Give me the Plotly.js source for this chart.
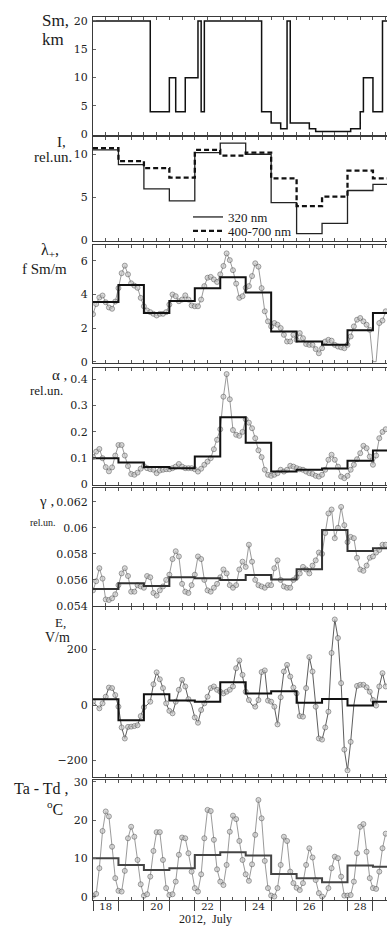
<!DOCTYPE html>
<html>
<head>
<meta charset="utf-8">
<script src="https://cdn.plot.ly/plotly-3.0.1.min.js"></script>
<style>
html, body { margin: 0; padding: 0; overflow: hidden; background: #fff; }
#chart { width: 420px; height: 927px; }
</style>
</head>
<body>
<div id="chart"></div>
<script>
// ---------------- DATA ----------------
// x unit: days since 2012-07-18 00:00
const dayLabels = ["18", "20", "22", "24", "26", "28"];
const dayLabelPos = [0.5, 2.5, 4.5, 6.5, 8.5, 10.5];
const dayBoundaries = [0,1,2,3,4,5,6,7,8,9,10,11,12];

// Meteorological visibility Sm, km (change times in days, value from that time)
const smTimes  = [0, 2.25, 3.0, 3.25, 3.625, 4.125, 4.25, 4.375, 6.625, 7.0, 7.375, 7.625, 7.75, 8.5, 8.75, 10.125, 10.5, 10.625, 11.0, 11.375, 12.1];
const smValues = [20, 4, 10, 4, 10, 20, 4, 20, 4, 2, 1, 20, 2, 1, 0.5, 1, 4, 10, 4, 20, 20];

// Daily solar radiation, rel.un.
const i320 = [10.5, 8.8, 6.0, 4.6, 10.2, 11.3, 10.0, 4.4, 0.8, 2.0, 5.8, 6.5];
const i400 = [10.7, 9.2, 8.4, 7.3, 10.5, 9.85, 10.2, 7.2, 4.0, 5.1, 8.1, 7.2];

// 3-hourly values (every 0.125 day) and daily means
const lam = [2.83, 3.43, 3.82, 3.94, 3.54, 3.23, 3.15, 3.58,
  4.38, 5.27, 5.72, 5.2, 4.67, 4.53, 4.4, 3.8,
  3.3, 3.05, 2.95, 2.85, 2.75, 2.85, 2.85, 2.95,
  3.4, 4.0, 3.9, 3.6, 3.7, 3.95, 3.7, 3.35,
  3.3, 3.3, 3.7, 4.5, 5.0, 5.05, 4.9, 4.75,
  5.2, 5.7, 6.45, 6.05, 5.45, 4.65, 3.8, 3.9,
  4.4, 4.5, 5.1, 5.86, 5.66, 4.38, 3.0, 2.4,
  2.1, 2.3, 2.2, 2.0, 1.6, 1.2, 1.2, 1.6,
  1.3, 1.7, 1.4, 1.05, 1.0, 1.0, 0.75, 0.5,
  0.8, 1.2, 1.3, 1.25, 1.0, 0.9, 0.85, 0.8,
  1.0, 1.5, 2.1, 2.5, 2.6, 2.4, 2.2, 1.9,
  0, 0, 2.3, 2.45, 3.0];
const lamMean = [3.55, 4.57, 2.9, 3.62, 4.38, 5.03, 4.12, 1.8, 1.2, 1.0, 1.87, 2.9];

const alpha = [0.105, 0.125, 0.135, 0.1, 0.066, 0.05, 0.065, 0.11,
  0.15, 0.15, 0.11, 0.07, 0.04, 0.037, 0.045, 0.06,
  0.07, 0.062, 0.058, 0.056, 0.043, 0.053, 0.056, 0.058,
  0.058, 0.062, 0.068, 0.078, 0.068, 0.062, 0.062, 0.062,
  0.058, 0.049, 0.06, 0.075, 0.087, 0.1, 0.134, 0.17,
  0.21, 0.334, 0.42, 0.324, 0.207, 0.189, 0.185, 0.2,
  0.248, 0.235, 0.214, 0.176, 0.13, 0.104, 0.056, 0.037,
  0.033, 0.037, 0.043, 0.056, 0.049, 0.056, 0.071, 0.068,
  0.062, 0.058, 0.056, 0.049, 0.043, 0.04, 0.033, 0.03,
  0.037, 0.056, 0.094, 0.113, 0.094, 0.068, 0.03, 0.024,
  0.033, 0.056, 0.075, 0.096, 0.119, 0.147, 0.138, 0.106,
  0.075, 0.11, 0.176, 0.2, 0.21];
const alphaMean = [0.1, 0.084, 0.066, 0.062, 0.106, 0.256, 0.159, 0.049, 0.056, 0.061, 0.09, 0.129];

const gamma = [0.0552, 0.0559, 0.0569, 0.0561, 0.0545, 0.05446, 0.05459, 0.0549,
  0.0556, 0.0565, 0.0569, 0.0563, 0.0551, 0.0551, 0.0556, 0.0555,
  0.0554, 0.0563, 0.0562, 0.055, 0.0548, 0.0552, 0.0555, 0.056,
  0.0564, 0.0576, 0.0582, 0.0578, 0.0557, 0.0551, 0.055, 0.0556,
  0.0564, 0.0578, 0.0576, 0.056, 0.0552, 0.0551, 0.0554, 0.0557,
  0.0562, 0.0568, 0.0565, 0.0556, 0.0554, 0.0556, 0.0568, 0.0574,
  0.057, 0.0587, 0.0574, 0.056, 0.0556, 0.0555, 0.0554, 0.0556,
  0.0556, 0.0569, 0.0575, 0.056, 0.0555, 0.0554, 0.0554, 0.056,
  0.0562, 0.0565, 0.057, 0.0568, 0.0565, 0.0571, 0.0575, 0.0581,
  0.058, 0.0596, 0.0611, 0.0614, 0.0592, 0.06, 0.0616, 0.0602,
  0.0589, 0.0593, 0.0592, 0.0577, 0.0568, 0.0567, 0.0571, 0.0577,
  0.0578, 0.0581, 0.0583, 0.0587, 0.0587];
const gammaMean = [0.0553, 0.05574, 0.05553, 0.0562, 0.05612, 0.056, 0.05638, 0.05604, 0.05681, 0.05982, 0.05821, 0.05842];
const gammaTicks = [0.054, 0.056, 0.058, 0.060, 0.062];
const gammaTickText = ["0.054", "0.056", "0.058", "0.06", "0.062"];

const efield = [12, 0, -12, 6, 30, 63, 61, 36,
  -6, -81, -121, -79, -78, -76, -73, -40,
  -8, 0, 12, 75, 118, 93, 61, 6,
  -21, -30, 12, 55, 91, 67, 21, 0,
  -45, -64, -18, 6, 30, 61, 67, 55,
  48, 42, 48, 55, 67, 133, 161, 109,
  48, 18, 0, -6, 18, 119, 125, 16,
  12, -6, -70, 28, 121, 145, 103, 63,
  42, -40, -42, 61, 173, 121, -6, -121,
  -125, -81, -24, 188, 309, 242, 79, -161,
  -236, -133, 0, 69, 73, 73, 64, 48,
  18, -2, 67, 115, 67];
const efieldMean = [21, -55, 39, 16, 12, 82, 42, 50, 8, 22, -2, 12];

const dewDef = [0.3, 0.8, 7.5, 17.2, 22.3, 21, 13.1, 4.9,
  1.6, 1.4, 6.8, 15.3, 18.3, 15.7, 9.65, 3.3,
  0.3, 0.7, 5.3, 12, 16.9, 16.9, 9.65, 2.3,
  0.5, 0.7, 4, 11, 15.5, 15.3, 11.4, 6.6,
  2.3, 1.4, 5.9, 15.3, 22.7, 22.4, 14.9, 7.2,
  4, 3.1, 8.35, 17, 21.2, 20.3, 14.6, 9.65,
  5.9, 4.2, 8.5, 16.2, 25.3, 20.5, 9.4, 2.3,
  0.35, 0.1, 2.3, 8.35, 15.7, 14.6, 6.6, 3.6,
  2.4, 1.8, 3.6, 8.35, 12.7, 10.3, 4.4, 1.0,
  0.1, 0, 2.3, 7.5, 10.5, 10.1, 5.3, 0.35,
  0.35, 0.5, 4, 11.4, 18.3, 19, 11.8, 4.9,
  2.3, 2.1, 6.6, 12.7, 16.5];
const dewDefMean = [10.1, 8.35, 7.04, 7.48, 10.96, 11.65, 10.78, 6.0, 4.87, 3.83, 8.17, 7.9];

// ---------------- LAYOUT HELPERS ----------------
const H = 927, W = 420, L = 93, R = 20;
const PW = W - L - R;
const pxToX = p => (p - L) / PW;
const pxToY = p => (H - p) / H;
const dom = (top, bot) => [pxToY(bot), pxToY(top)];
const XRANGE = [0, PW / 25.45];
const STEP = 0.125;

const tX = arr => arr.map((_, k) => k * STEP);
const sX = arr => arr.map((_, i) => i).concat([arr.length]);
const sY = arr => arr.concat([arr[arr.length - 1]]);

const SERIF_TICK = "'DejaVu Serif', 'Liberation Serif', serif";
const SERIF_LAB = "'Liberation Serif', 'Times New Roman', serif";
const tickFont = { family: SERIF_TICK, size: 11, color: "#222" };
const labFont = (s) => ({ family: SERIF_LAB, size: s, color: "#1a1a1a" });

const ptMarker = (arr) => ({
  size: arr.map(v => (v === 0 ? 0 : 5)),
  color: "#c9c9c9",
  line: { color: "#555", width: 0.8 }
});

function pointTrace(arr, ax, lineColor) {
  return {
    x: tX(arr), y: arr, xaxis: ax[0], yaxis: ax[1], type: "scatter",
    mode: "lines+markers", showlegend: false, hoverinfo: "skip",
    line: { color: lineColor || "#808080", width: 0.8 },
    marker: ptMarker(arr)
  };
}
function stepTrace(arr, ax, color, width) {
  return {
    x: sX(arr), y: sY(arr), xaxis: ax[0], yaxis: ax[1], type: "scatter",
    mode: "lines", showlegend: false, hoverinfo: "skip",
    line: { shape: "hv", color: color || "#111", width: width || 2 }
  };
}

const traces = [
  { x: smTimes, y: smValues, xaxis: "x", yaxis: "y", type: "scatter", mode: "lines",
    showlegend: false, line: { shape: "hv", color: "#111", width: 1.5 } },
  { x: sX(i320), y: sY(i320), xaxis: "x2", yaxis: "y2", type: "scatter", mode: "lines",
    name: "320 nm", legend: "legend", line: { shape: "hv", color: "#222", width: 1.3 } },
  { x: sX(i400), y: sY(i400), xaxis: "x2", yaxis: "y2", type: "scatter", mode: "lines",
    name: "400-700 nm", legend: "legend2", line: { shape: "hv", color: "#111", width: 2.3, dash: "5px,3px" } },
  pointTrace(lam, ["x3", "y3"]),
  stepTrace(lamMean, ["x3", "y3"], "#111", 2),
  pointTrace(alpha, ["x4", "y4"]),
  stepTrace(alphaMean, ["x4", "y4"], "#111", 2),
  pointTrace(gamma, ["x5", "y5"]),
  stepTrace(gammaMean, ["x5", "y5"], "#333", 2),
  pointTrace(efield, ["x6", "y6"], "#333"),
  stepTrace(efieldMean, ["x6", "y6"], "#111", 2),
  pointTrace(dewDef, ["x7", "y7"]),
  stepTrace(dewDefMean, ["x7", "y7"], "#444", 2),
  { x: [null], y: [null], xaxis: "x8", yaxis: "y7", type: "scatter", mode: "lines", showlegend: false },
  { x: [null], y: [null], xaxis: "x9", yaxis: "y7", type: "scatter", mode: "lines", showlegend: false }
];

const panels = [
  { top: 17,  bot: 135, range: [-0.12, 20.7], tickvals: [0, 5, 10, 15, 20] },
  { top: 137, bot: 241, range: [-0.05, 12.0], tickvals: [0, 5, 10] },
  { top: 245, bot: 363, range: [-0.08, 6.95], tickvals: [0, 2, 4, 6] },
  { top: 368, bot: 485, range: [-0.002, 0.443], tickvals: [0, 0.1, 0.2, 0.3, 0.4] },
  { top: 488, bot: 606, range: [0.054, 0.06305], tickvals: gammaTicks, ticktext: gammaTickText },
  { top: 607, bot: 777, range: [-260, 354], tickvals: [-200, 0, 200] },
  { top: 780, bot: 900, range: [-0.8, 30.5], tickvals: [0, 10, 20, 30] }
];

const layout = {
  width: W, height: H,
  margin: { l: L, r: R, t: 0, b: 0, pad: 0 },
  paper_bgcolor: "#fff", plot_bgcolor: "#fff",
  showlegend: true,
  legend: { x: pxToX(188), y: pxToY(217), xanchor: "left", yanchor: "middle",
    bgcolor: "rgba(0,0,0,0)", borderwidth: 0, font: labFont(13) },
  legend2: { x: pxToX(188), y: pxToY(231), xanchor: "left", yanchor: "middle",
    bgcolor: "rgba(0,0,0,0)", borderwidth: 0, font: labFont(13) },
  annotations: [],
  font: tickFont
};

panels.forEach((p, i) => {
  const n = i + 1;
  const xk = n === 1 ? "xaxis" : "xaxis" + n;
  const yk = n === 1 ? "yaxis" : "yaxis" + n;
  const ya = n === 1 ? "y" : "y" + n;
  const xa = n === 1 ? "x" : "x" + n;
  layout[xk] = {
    domain: [0, 1], anchor: ya, range: XRANGE, showline: true, linecolor: "#3a3a3a",
    linewidth: 1, mirror: "ticks", ticks: "inside", tick0: 0, dtick: 0.5, ticklen: 3,
    tickcolor: "#555", showticklabels: false, showgrid: false, zeroline: false
  };
  const yax = {
    domain: dom(p.top, p.bot), anchor: xa, range: p.range, showline: true,
    linecolor: "#3a3a3a", linewidth: 1, ticks: "inside", ticklen: 3, tickcolor: "#666",
    tickmode: "array", tickvals: p.tickvals, showgrid: false, zeroline: false,
    tickfont: tickFont, ticklabelstandoff: 2
  };
  if (p.ticktext) yax.ticktext = p.ticktext;
  layout[yk] = yax;
});

layout.xaxis8 = {
  overlaying: "x7", anchor: "y7", side: "bottom", range: XRANGE, showline: false,
  tickmode: "array", tickvals: dayBoundaries, ticks: "outside", ticklen: 10,
  tickcolor: "#444", tickwidth: 1, showticklabels: false, showgrid: false, zeroline: false
};
layout.xaxis9 = {
  overlaying: "x7", anchor: "y7", side: "bottom", range: XRANGE, showline: false,
  tickmode: "array", tickvals: dayLabelPos, ticktext: dayLabels, ticks: "",
  tickfont: { family: SERIF_TICK, size: 10, color: "#222" }, ticklabelstandoff: -1,
  showgrid: false, zeroline: false
};

const ann = (text, x, y, size, anchor) => ({
  text: text, xref: "paper", yref: "paper", x: pxToX(x), y: pxToY(y),
  xanchor: anchor || "left", yanchor: "middle", showarrow: false, font: labFont(size)
});
layout.annotations = [
  ann("Sm,", 40, 21, 17),
  ann("km", 40, 39, 17),
  ann("I,", 61, 142, 15, "center"),
  ann("rel.un.", 53, 157, 15, "center"),
  ann("λ<sub>+</sub>,", 39, 250, 16),
  ann("f Sm/m", 20, 269, 15),
  ann("α ,", 50, 375, 15),
  ann("rel.un.", 28, 390, 13),
  ann("γ ,", 37, 501, 15),
  ann("rel.un.", 28, 522, 10),
  ann("E,", 53, 622, 13),
  ann("V/m", 43, 637, 14),
  ann("Ta - Td ,", 12, 788, 16),
  ann("<sup>o</sup>C", 45, 808, 16),
  ann("2012,  July", 205, 919, 12, "center")
];

Plotly.newPlot("chart", traces, layout, { staticPlot: true, displayModeBar: false });
</script>
</body>
</html>
